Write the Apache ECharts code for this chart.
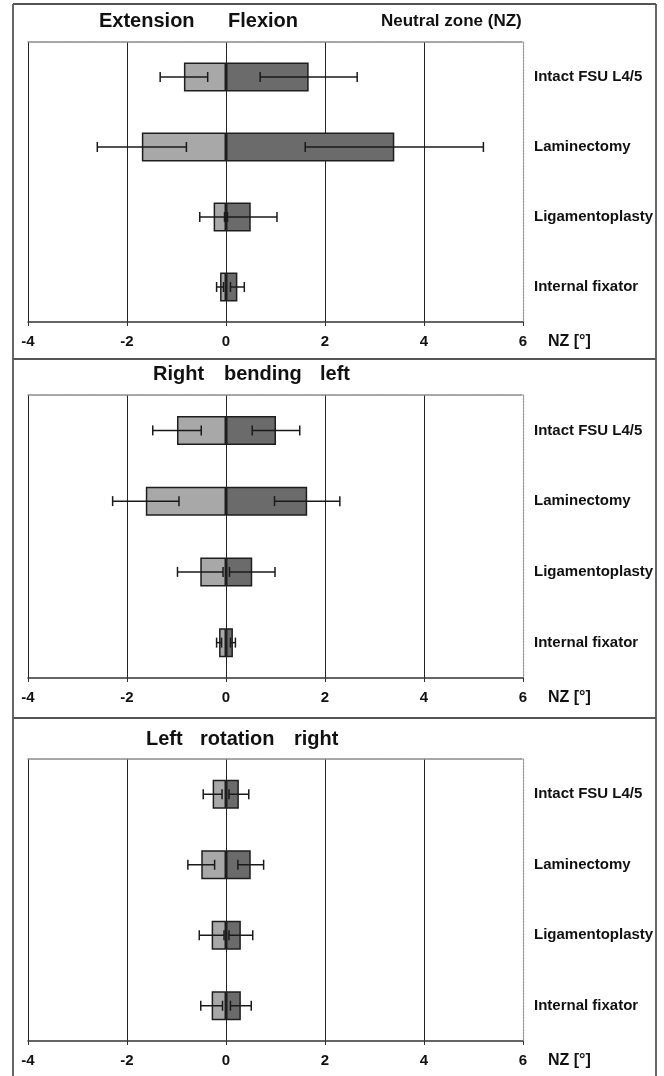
<!DOCTYPE html>
<html>
<head>
<meta charset="utf-8">
<script src="https://cdn.jsdelivr.net/npm/echarts@6/dist/echarts.min.js"></script>
<style>
html,body{margin:0;padding:0;background:#fff;}
#chart{width:664px;height:1076px;}
</style>
</head>
<body>
<div id="chart"></div>
<script>
// ---- data ----
const categories = ['Intact FSU L4/5', 'Laminectomy', 'Ligamentoplasty', 'Internal fixator'];
const xTicks = [-4, -2, 0, 2, 4, 6];
const axisTitle = 'NZ [°]';

// Panel 1: Extension (negative) / Flexion (positive)
const extensionMean = [-0.85, -1.70, -0.25, -0.12];
const extensionSD   = [0.48, 0.90, 0.28, 0.07];
const flexionMean   = [1.67, 3.40, 0.50, 0.23];
const flexionSD     = [0.98, 1.80, 0.53, 0.14];

// Panel 2: Right (negative) / Left (positive) bending
const rightBendMean = [-0.99, -1.62, -0.52, -0.14];
const rightBendSD   = [0.49, 0.67, 0.46, 0.05];
const leftBendMean  = [1.01, 1.64, 0.53, 0.14];
const leftBendSD    = [0.48, 0.66, 0.46, 0.05];

// Panel 3: Left (negative) / Right (positive) rotation
const leftRotMean   = [-0.27, -0.50, -0.29, -0.29];
const leftRotSD     = [0.19, 0.27, 0.25, 0.22];
const rightRotMean  = [0.26, 0.50, 0.30, 0.30];
const rightRotSD    = [0.20, 0.26, 0.24, 0.21];

const panels = [
  {neg: extensionMean, negSD: extensionSD, pos: flexionMean, posSD: flexionSD},
  {neg: rightBendMean, negSD: rightBendSD, pos: leftBendMean, posSD: leftBendSD},
  {neg: leftRotMean, negSD: leftRotSD, pos: rightRotMean, posSD: rightRotSD}
];

// ---- layout ----
const FONT = '"Liberation Sans", Arial, sans-serif';
const gridTops = [42, 395, 759];
const gridHeights = [280, 283, 282];
const GL = 28, GW = 495;
const lightFill = '#a8a8a8', darkFill = '#6b6b6b', edge = '#1e1e1e';

function errRender(params, api) {
  const lo = api.coord([api.value(0), api.value(2)]);
  const hi = api.coord([api.value(1), api.value(2)]);
  const h = 5;
  const style = {stroke: '#1a1a1a', lineWidth: 1.5};
  return {type: 'group', children: [
    {type: 'line', shape: {x1: lo[0], y1: lo[1], x2: hi[0], y2: hi[1]}, style},
    {type: 'line', shape: {x1: lo[0], y1: lo[1] - h, x2: lo[0], y2: lo[1] + h}, style},
    {type: 'line', shape: {x1: hi[0], y1: hi[1] - h, x2: hi[0], y2: hi[1] + h}, style}
  ]};
}

const grid = [], xAxis = [], yAxis = [], series = [];
panels.forEach((p, k) => {
  grid.push({left: GL, width: GW, top: gridTops[k], height: gridHeights[k], containLabel: false});
  // bottom value axis
  xAxis.push({
    type: 'value', gridIndex: k, position: 'bottom',
    min: xTicks[0], max: xTicks[xTicks.length - 1], interval: 2,
    axisLine: {show: true, onZero: false, lineStyle: {color: '#333', width: 1.5}},
    axisTick: {show: true, length: 4, lineStyle: {color: '#333', width: 1}},
    axisLabel: {margin: 12, color: '#111', fontFamily: FONT, fontWeight: 'bold', fontSize: 15},
    splitLine: {show: true, showMaxLine: false, lineStyle: {color: '#222', width: 1}}
  });
  // top border axis
  xAxis.push({
    type: 'value', gridIndex: k, position: 'top',
    min: xTicks[0], max: xTicks[xTicks.length - 1], interval: 2,
    axisLine: {show: true, onZero: false, lineStyle: {color: '#888', width: 1.5, type: [2, 1]}},
    axisTick: {show: false}, axisLabel: {show: false}, splitLine: {show: false}
  });
  yAxis.push({
    type: 'category', gridIndex: k, data: categories, inverse: true, position: 'right',
    axisLine: {show: true, onZero: false, lineStyle: {color: '#999', width: 1.2, type: [2, 1]}},
    axisTick: {show: false},
    axisLabel: {margin: 11, color: '#111', fontFamily: FONT, fontWeight: 'bold', fontSize: 15}
  });
  const xi = k * 2;
  series.push({
    type: 'bar', xAxisIndex: xi, yAxisIndex: k, data: p.neg, barWidth: 29, barGap: '-100%',
    itemStyle: {color: lightFill, borderColor: edge, borderWidth: 1.5}, z: 2
  });
  series.push({
    type: 'bar', xAxisIndex: xi, yAxisIndex: k, data: p.pos, barWidth: 29, barGap: '-100%',
    itemStyle: {color: darkFill, borderColor: edge, borderWidth: 1.5}, z: 2
  });
  const errNeg = p.neg.map((m, i) => [m - p.negSD[i], m + p.negSD[i], i]);
  const errPos = p.pos.map((m, i) => [m - p.posSD[i], m + p.posSD[i], i]);
  [errNeg, errPos].forEach(d => series.push({
    type: 'custom', xAxisIndex: xi, yAxisIndex: k, data: d,
    encode: {x: [0, 1], y: 2}, renderItem: errRender, z: 5, silent: true
  }));
});

function word(text, x, y, size) {
  return {type: 'text', x: x, y: y, silent: true,
    style: {text: text, fill: '#111', font: 'bold ' + size + 'px ' + FONT, verticalAlign: 'middle', align: 'left'}};
}
function hline(y) {
  return {type: 'line', silent: true, shape: {x1: 13, y1: y, x2: 656, y2: y}, style: {stroke: '#555', lineWidth: 2}};
}

const graphic = [
  {type: 'line', silent: true, shape: {x1: 13, y1: 4, x2: 13, y2: 1076}, style: {stroke: '#666', lineWidth: 2}},
  {type: 'line', silent: true, shape: {x1: 656, y1: 4, x2: 656, y2: 1076}, style: {stroke: '#666', lineWidth: 2}},
  hline(4), hline(359), hline(718),
  word('Extension', 99, 21, 20),
  word('Flexion', 228, 21, 20),
  word('Neutral zone (NZ)', 381, 21, 17),
  word('Right', 153, 374, 20),
  word('bending', 224, 374, 20),
  word('left', 320, 374, 20),
  word('Left', 146, 739, 20),
  word('rotation', 200, 739, 20),
  word('right', 294, 739, 20)
];
gridTops.forEach((t, k) => graphic.push(word(axisTitle, 548, t + gridHeights[k] + 20, 16)));

const chart = echarts.init(document.getElementById('chart'), null, {renderer: 'canvas'});
chart.setOption({
  backgroundColor: '#fff',
  animation: false,
  grid, xAxis, yAxis, series, graphic
});
</script>
</body>
</html>
